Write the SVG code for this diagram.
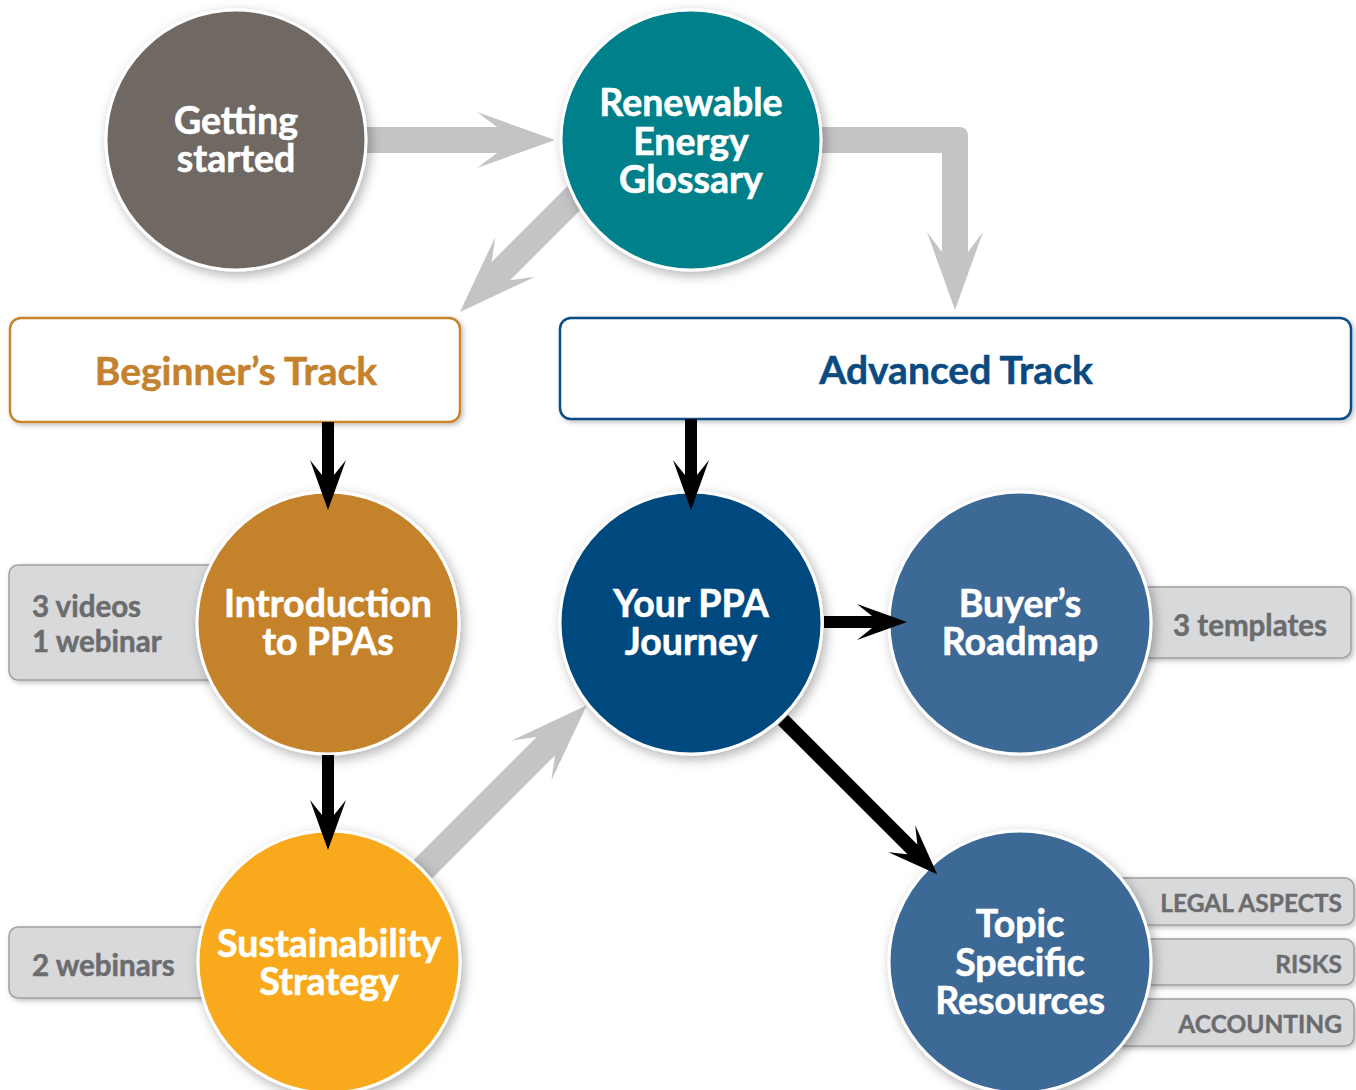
<svg xmlns="http://www.w3.org/2000/svg" width="1356" height="1090" viewBox="0 0 1356 1090">
<defs>
<filter id="sh" x="-20%" y="-20%" width="140%" height="140%">
<feDropShadow dx="3" dy="4" stdDeviation="6" flood-color="#000" flood-opacity="0.3"/>
</filter>
<filter id="shs" x="-10%" y="-20%" width="120%" height="140%">
<feDropShadow dx="2" dy="2" stdDeviation="2.5" flood-color="#000" flood-opacity="0.25"/>
</filter>
</defs>
<style>
.c{stroke:#fff;stroke-width:3;filter:url(#sh)}
.ct{font-family:Lato,"Liberation Sans",sans-serif;font-weight:bold;font-size:37.5px;fill:#fff;stroke:#fff;stroke-width:0.6;text-anchor:middle}
.tag{fill:#d8d9db;stroke:#9fa0a2;stroke-width:1.5;filter:url(#shs)}
.tt{font-family:Lato,"Liberation Sans",sans-serif;font-weight:bold;font-size:29.5px;fill:#6b6c6e;stroke:#6b6c6e;stroke-width:0.5}
.ts{font-family:Lato,"Liberation Sans",sans-serif;font-weight:bold;font-size:24.5px;fill:#6b6c6e;stroke:#6b6c6e;stroke-width:0.4;text-anchor:end}
.ga{fill:#c3c4c6}
.ba{fill:#000}
.bx{fill:#fff;stroke-width:2.5;filter:url(#shs)}
.bt{font-family:Lato,"Liberation Sans",sans-serif;font-weight:bold;font-size:39px;stroke-width:0.5;text-anchor:middle}
</style>
<rect width="1356" height="1090" fill="#fff"/>

<g id="tags">
<g id="tag-videos"><rect class="tag" x="9" y="565" width="240" height="115" rx="9"/><text class="tt" x="32" y="617">3 videos</text><text class="tt" x="32" y="652">1 webinar</text></g>
<g id="tag-webinars"><rect class="tag" x="9" y="927" width="240" height="71" rx="9"/><text class="tt" x="32" y="976">2 webinars</text></g>
<g id="tag-templates"><rect class="tag" x="1110" y="587" width="241" height="71" rx="9"/><text class="tt" x="1173" y="636">3 templates</text></g>
<g id="tag-legal"><rect class="tag" x="1110" y="878" width="244" height="47" rx="9"/><text class="ts" x="1342" y="912">LEGAL ASPECTS</text></g>
<g id="tag-risks"><rect class="tag" x="1110" y="939" width="244" height="46" rx="9"/><text class="ts" x="1342" y="973">RISKS</text></g>
<g id="tag-accounting"><rect class="tag" x="1110" y="999" width="244" height="47" rx="9"/><text class="ts" x="1342" y="1033">ACCOUNTING</text></g>
</g>

<g id="connectors-gray">
<polygon class="ga" transform="translate(340,140)" points="0,-13 157,-13 137,-28 215,0 137,28 157,13 0,13"/>
<polygon class="ga" transform="translate(590,182) rotate(135)" points="0,-13 126,-13 106,-28 184,0 106,28 126,13 0,13"/>
<path class="ga" d="M800,127 H959 Q968,127 968,136 V252 L983,232 L955,310 L927,232 L942,252 V153 H800 Z"/>
<polygon class="ga" transform="translate(410,882) rotate(-45)" points="0,-13 192,-13 172,-28 250,0 172,28 192,13 0,13"/>
</g>

<g id="beginners-track"><rect class="bx" x="10" y="318" width="450" height="104" rx="11" stroke="#c8842e"/><text class="bt" x="236" y="385" fill="#c4822e" stroke="#c4822e">Beginner’s Track</text></g>
<g id="advanced-track"><rect class="bx" x="560" y="318" width="791" height="101" rx="11" stroke="#0f4d85"/><text class="bt" x="956" y="384" fill="#0b4a80" stroke="#0b4a80">Advanced Track</text></g>

<g id="getting-started"><circle class="c" cx="236" cy="140" r="130" fill="#6f6764"/><text class="ct" x="236" y="134">Getting</text><text class="ct" x="236" y="172">started</text></g>
<g id="glossary"><circle class="c" cx="691" cy="140" r="130" fill="#00808a"/><text class="ct" x="691" y="116">Renewable</text><text class="ct" x="691" y="155">Energy</text><text class="ct" x="691" y="193">Glossary</text></g>
<g id="intro-ppas"><circle class="c" cx="328" cy="623" r="131" fill="#c4822b"/><text class="ct" x="328" y="617">Introduction</text><text class="ct" x="328" y="655">to PPAs</text></g>
<g id="your-ppa"><circle class="c" cx="691" cy="623" r="131" fill="#03497f"/><text class="ct" x="691" y="617">Your PPA</text><text class="ct" x="691" y="655">Journey</text></g>
<g id="buyers-roadmap"><circle class="c" cx="1020" cy="623" r="131" fill="#3d6996"/><text class="ct" x="1020" y="617">Buyer’s</text><text class="ct" x="1020" y="655">Roadmap</text></g>
<g id="sustainability"><circle class="c" cx="329" cy="962" r="131" fill="#f9a91b"/><text class="ct" x="329" y="957">Sustainability</text><text class="ct" x="329" y="995">Strategy</text></g>
<g id="topic-resources"><circle class="c" cx="1020" cy="962" r="131" fill="#3d6996"/><text class="ct" x="1020" y="937">Topic</text><text class="ct" x="1020" y="976">Specific</text><text class="ct" x="1020" y="1014">Resources</text></g>

<g id="connectors">
<polygon class="ba" transform="translate(328,422) rotate(90)" points="0,-6 53,-6 38,-18 88,0 38,18 53,6 0,6"/>
<polygon class="ba" transform="translate(691,419) rotate(90)" points="0,-6 56,-6 41,-18 91,0 41,18 56,6 0,6"/>
<polygon class="ba" transform="translate(328,755) rotate(90)" points="0,-6 60,-6 45,-18 95,0 45,18 60,6 0,6"/>
<polygon class="ba" transform="translate(824,622)" points="0,-6 48,-6 33,-18 83,0 33,18 48,6 0,6"/>
<polygon class="ba" transform="translate(783,720) rotate(45)" points="0,-7 183,-7 168,-19 218,0 168,19 183,7 0,7"/>
</g>
</svg>
